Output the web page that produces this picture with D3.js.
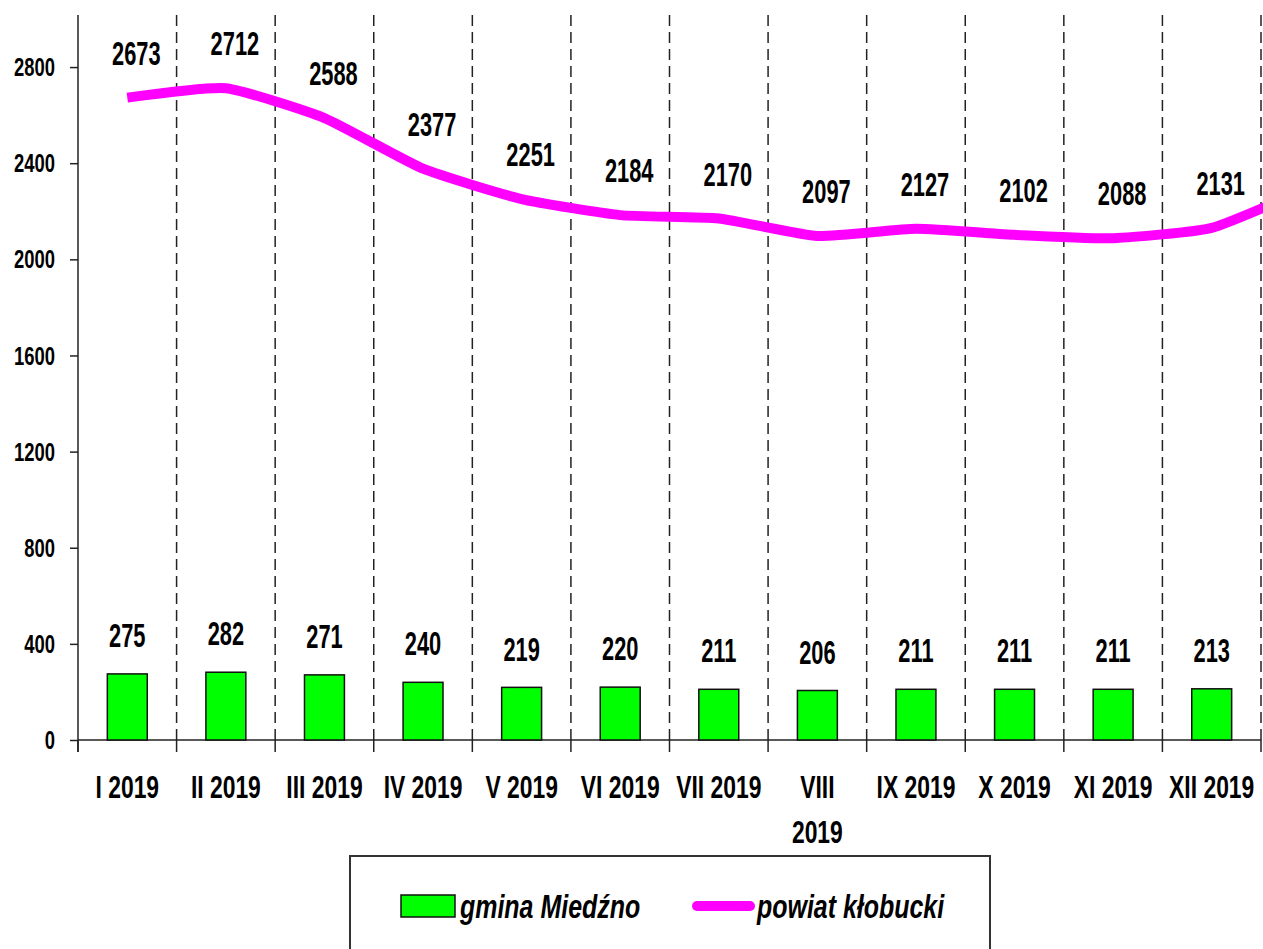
<!DOCTYPE html>
<html>
<head>
<meta charset="utf-8">
<script src="https://cdn.jsdelivr.net/npm/d3@7"></script>
<style>
  body { margin: 0; background: #fff; }
  text { font-family: "Liberation Sans", Arial, sans-serif; font-weight: bold; fill: #000; }
</style>
</head>
<body>
<div id="chart"></div>
<script>
// chart values
var months = ["I 2019", "II 2019", "III 2019", "IV 2019", "V 2019", "VI 2019",
              "VII 2019", "VIII 2019", "IX 2019", "X 2019", "XI 2019", "XII 2019"];
var gmina = [275, 282, 271, 240, 219, 220, 211, 206, 211, 211, 211, 213];
// last value is the next month, drawn past the right edge (only its start is visible)
var powiat = [2673, 2712, 2588, 2377, 2251, 2184, 2170, 2097, 2127, 2102, 2088, 2131, 2300];
var yTicks = [0, 400, 800, 1200, 1600, 2000, 2400, 2800];
var seriesNames = ["gmina Miedźno", "powiat kłobucki"];

var w = 1263;
var h = 949;

var svg = d3.select("#chart")
            .append("svg")
            .attr("width", w)
            .attr("height", h);

var x = d3.scaleBand()
          .domain(months)
          .range([78, 1261])
          .padding(0);

var y = d3.scaleLinear()
          .domain([0, 3000])
          .range([740, 19]);

// x position of a point by index (index 12 = one step past the last month)
function px(i) {
    return x(months[0]) + x.step() * i + x.bandwidth() / 2;
}

// text helper: squeeze / stretch the font like the picture (narrow, tall type)
function stretched(sel, sx, sy) {
    return sel.attr("transform", function() {
        return "translate(" + this.__x + "," + this.__y + ") scale(" + sx + "," + sy + ")";
    });
}

//Dashed separators between months
var bounds = months.slice(1).map(function(m){ return x(m); }).concat([x.range()[1]]);
svg.selectAll(".sep")
   .data(bounds)
   .enter()
   .append("line")
   .attr("class", "sep")
   .attr("x1", function(d){ return d; })
   .attr("x2", function(d){ return d; })
   .attr("y1", y(3000) - 4)
   .attr("y2", y(0))
   .attr("stroke", "#222")
   .attr("stroke-width", 1.5)
   .attr("stroke-dasharray", "11,6");

// small ticks under the axis
svg.selectAll(".xtick")
   .data([x.range()[0]].concat(bounds))
   .enter()
   .append("line")
   .attr("class", "xtick")
   .attr("x1", function(d){ return d; })
   .attr("x2", function(d){ return d; })
   .attr("y1", y(0))
   .attr("y2", y(0) + 12)
   .attr("stroke", "#222")
   .attr("stroke-width", 1.5);

// y axis
var yAxis = svg.append("g")
   .attr("transform", "translate(" + x.range()[0] + ",0)")
   .call(d3.axisLeft(y).tickValues(yTicks).tickSize(8).tickSizeOuter(0).tickFormat(d3.format("d")));
yAxis.select(".domain").remove();
yAxis.selectAll(".tick line").attr("stroke", "#222").attr("stroke-width", 1.5);
yAxis.selectAll(".tick text").remove();
yAxis.append("line")
   .attr("x1", 0).attr("x2", 0)
   .attr("y1", y(3000) - 4).attr("y2", y(0) + 12)
   .attr("stroke", "#222").attr("stroke-width", 1.5);

svg.selectAll(".ylab")
   .data(yTicks)
   .enter()
   .append("text")
   .attr("class", "ylab")
   .each(function(d){ this.__x = x.range()[0] - 23; this.__y = y(d); })
   .attr("text-anchor", "end")
   .attr("dy", "0.36em")
   .style("font-size", "23px")
   .text(function(d){ return d; })
   .call(stretched, 0.8, 1.1);

// x axis line
svg.append("line")
   .attr("x1", x.range()[0]).attr("x2", x.range()[1])
   .attr("y1", y(0)).attr("y2", y(0))
   .attr("stroke", "#222").attr("stroke-width", 1.5);

// month labels (long ones wrap onto two lines)
svg.selectAll(".xlab")
   .data(months)
   .enter()
   .append("text")
   .attr("class", "xlab")
   .each(function(d){ this.__x = x(d) + x.bandwidth() / 2; this.__y = 786; })
   .attr("text-anchor", "middle")
   .attr("dy", "0.36em")
   .style("font-size", "26px")
   .call(stretched, 0.88, 1.24)
   .each(function(d){
       var t = d3.select(this);
       if (d.length > 8) {
           var parts = d.split(" ");
           t.append("tspan").attr("x", 0).text(parts[0]);
           t.append("tspan").attr("x", 0).attr("dy", "1.4em").text(parts[1]);
       } else {
           t.text(d);
       }
   });

// bars
var barW = x.bandwidth() * 0.405;
svg.selectAll(".bar")
   .data(gmina)
   .enter()
   .append("rect")
   .attr("class", "bar")
   .attr("x", function(d, i){ return px(i) - barW / 2; })
   .attr("y", function(d){ return y(d); })
   .attr("width", barW)
   .attr("height", function(d){ return y(0) - y(d); })
   .attr("fill", "#00ff00")
   .attr("stroke", "#111")
   .attr("stroke-width", 1.5);

svg.selectAll(".barlab")
   .data(gmina)
   .enter()
   .append("text")
   .attr("class", "barlab")
   .each(function(d, i){ this.__x = px(i); this.__y = y(d) - 39; })
   .attr("text-anchor", "middle")
   .attr("dy", "0.36em")
   .style("font-size", "26px")
   .text(function(d){ return d; })
   .call(stretched, 0.84, 1.3);

// line
var line = d3.line()
   .x(function(d, i){ return px(i); })
   .y(function(d){ return y(d); })
   .curve(d3.curveCardinal.tension(0.5));

svg.append("path")
   .datum(powiat)
   .attr("d", line)
   .attr("fill", "none")
   .attr("stroke", "#ff00ff")
   .attr("stroke-width", 10)
   .attr("stroke-linejoin", "round");

svg.selectAll(".linelab")
   .data(powiat.slice(0, months.length))
   .enter()
   .append("text")
   .attr("class", "linelab")
   .each(function(d, i){ this.__x = px(i) + 9; this.__y = y(d) - 45; })
   .attr("text-anchor", "middle")
   .attr("dy", "0.36em")
   .style("font-size", "26px")
   .text(function(d){ return d; })
   .call(stretched, 0.84, 1.3);

// legend
var legend = svg.append("g");
legend.append("rect")
   .attr("x", 350).attr("y", 856)
   .attr("width", 640).attr("height", 130)
   .attr("fill", "#fff")
   .attr("stroke", "#333")
   .attr("stroke-width", 2);

legend.append("rect")
   .attr("x", 401).attr("y", 895)
   .attr("width", 54).attr("height", 22)
   .attr("fill", "#00ff00")
   .attr("stroke", "#111")
   .attr("stroke-width", 1.5);

legend.append("line")
   .attr("x1", 697).attr("x2", 750)
   .attr("y1", 906).attr("y2", 906)
   .attr("stroke", "#ff00ff")
   .attr("stroke-width", 10)
   .attr("stroke-linecap", "round");

legend.selectAll(".legtext")
   .data(seriesNames)
   .enter()
   .append("text")
   .attr("class", "legtext")
   .each(function(d, i){ this.__x = i === 0 ? 460 : 757; this.__y = 906; })
   .attr("dy", "0.36em")
   .style("font-size", "26px")
   .style("font-style", "italic")
   .text(function(d){ return d; })
   .call(stretched, 0.96, 1.3);
</script>
</body>
</html>
